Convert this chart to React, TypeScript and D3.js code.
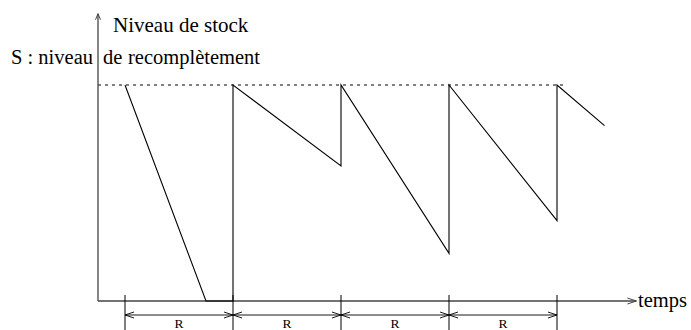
import React from "react";
import * as d3 from "d3";

// Data (time in units of review period R, stock level in % of S)
const stockTimes = [0.25, 1.0, 1.25, 1.25, 2.25, 2.25, 3.25, 3.25, 4.25, 4.25, 4.69];
const stockLevels = [100, 0, 0, 100, 62.5, 100, 22.1, 100, 37.2, 100, 81.2];
const reviewTimes = [0.25, 1.25, 2.25, 3.25, 4.25];
const periodLabel = "R";
const sLevel = 100;
const sLineEnd = 4.31;
const xAxisEnd = 4.985;
const yAxisTop = 133;
const yTitle = "Niveau de stock";
const sLabelParts = ["S : niveau", "de", "recomplètement"];
const xTitle = "temps";

const W = 691;
const H = 330;

export default function App() {
  const x = d3.scaleLinear().domain([0, 5]).range([98, 638]);
  const y = d3.scaleLinear().domain([0, 100]).range([301, 85]);

  const line = d3
    .line<number>()
    .x((_, i) => x(stockTimes[i]))
    .y((d) => y(d));

  const axisColor = "#444";
  const ts: React.CSSProperties = { fontFamily: "Liberation Serif" };
  const x0 = x(0);
  const y0 = y(0);
  const xEnd = x(xAxisEnd);
  const yTop = y(yAxisTop);
  const dimY = 315;

  const chevron = (tx: number, ty: number, dir: "right" | "left" | "up", len = 8, hw = 3) => {
    if (dir === "right") return `M${tx - len},${ty - hw}L${tx},${ty}L${tx - len},${ty + hw}`;
    if (dir === "left") return `M${tx + len},${ty - hw}L${tx},${ty}L${tx + len},${ty + hw}`;
    return `M${tx - hw},${ty + len}L${tx},${ty}L${tx + hw},${ty + len}`;
  };

  return (
    <svg
      width={W}
      height={H}
      style={{ position: "absolute", left: 0, top: 0, background: "#fff" }}
    >
      {/* S level dotted line */}
      <line
        x1={x0}
        x2={x(sLineEnd)}
        y1={y(sLevel)}
        y2={y(sLevel)}
        stroke="#000"
        strokeWidth={1}
        strokeDasharray="3,4"
      />
      {/* axes */}
      <line x1={x0} x2={x0} y1={y0} y2={yTop} stroke={axisColor} strokeWidth={1.3} />
      <path d={chevron(x0, yTop, "up", 6, 2.5)} fill="none" stroke={axisColor} strokeWidth={1} />
      <line x1={x0} x2={xEnd} y1={y0} y2={y0} stroke={axisColor} strokeWidth={1.3} />
      <path d={chevron(xEnd, y0, "right", 9, 3)} fill="none" stroke={axisColor} strokeWidth={1} />

      {/* sawtooth stock line */}
      <path d={line(stockLevels) || ""} fill="none" stroke="#000" strokeWidth={1.1} />

      {/* review ticks */}
      {reviewTimes.map((t) => (
        <line key={"t" + t} x1={x(t)} x2={x(t)} y1={295} y2={H} stroke="#000" strokeWidth={1} />
      ))}
      {/* dimension arrows */}
      {reviewTimes.slice(0, -1).map((t, i) => {
        const a = x(t);
        const b = x(reviewTimes[i + 1]);
        return (
          <g key={"d" + t}>
            <line x1={a} x2={b} y1={dimY} y2={dimY} stroke="#000" strokeWidth={0.9} />
            <path d={chevron(a, dimY, "left", 9, 3)} fill="none" stroke="#000" strokeWidth={0.9} />
            <path d={chevron(b, dimY, "right", 9, 3)} fill="none" stroke="#000" strokeWidth={0.9} />
            <text x={(a + b) / 2} y={328} fontSize={13.5} textAnchor="middle" fill="#000" style={ts}>
              {periodLabel}
            </text>
          </g>
        );
      })}

      {/* labels */}
      <text x={113} y={32} fontSize={21} fill="#000" style={ts}>
        {yTitle}
      </text>
      <text y={64} fontSize={20.5} fill="#000" style={ts}>
        <tspan x={11}>{sLabelParts[0]}</tspan>
        <tspan x={103}>{sLabelParts[1]}</tspan>
        <tspan x={128}>{sLabelParts[2]}</tspan>
      </text>
      <text x={638} y={307} fontSize={20.5} fill="#000" style={ts}>
        {xTitle}
      </text>
    </svg>
  );
}
